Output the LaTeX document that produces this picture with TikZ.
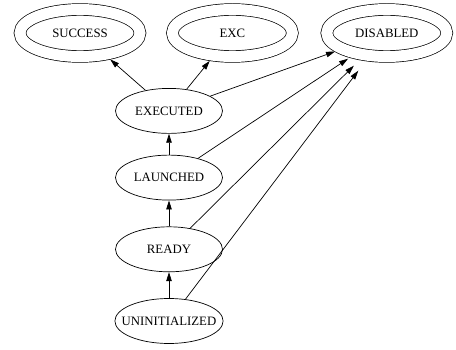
\documentclass[tikz,border=0pt]{standalone}
\usepackage{fontspec}
\setmainfont{Liberation Serif}
\usetikzlibrary{shapes,positioning,arrows.meta}

\begin{document}
\begin{tikzpicture}[
    x=1pt, y=-1pt,
    node distance=26pt,
    statenode/.style={
        ellipse, draw=black, line width=0.7pt, inner sep=0pt,
        minimum width=107pt, minimum height=45pt,
        font=\fontsize{12.8}{14}\selectfont
      },
    endnode/.style={
        ellipse, draw=black, line width=0.7pt, double, double distance=11pt,
        inner sep=0pt, outer sep=6.2pt,
        minimum width=120pt, minimum height=47pt,
        font=\fontsize{12.8}{14}\selectfont
      },
    tr/.style={
        draw=black, line width=0.7pt, -{Triangle[length=9pt,width=5.5pt]}
      },
  ]
  \useasboundingbox (0,0) rectangle (456,350);
  \node[endnode](succ) at (80,33) {SUCCESS};
  \node[endnode](exc) [right=20pt of succ] {EXC};
  \node[endnode](dis) [right=22pt of exc] {DISABLED};
  \node[statenode, inner xsep=-9pt](uninit) at (169,321) {UNINITIALIZED};
  \node[statenode](ready) [above=of uninit] {READY};
  \node[statenode](launch) [above=of ready] {LAUNCHED};
  \node[statenode](exec) [above=21pt of launch] {EXECUTED};

  \path[tr]
    (uninit) edge (ready)
    (ready) edge (launch)
    (launch) edge (exec)
    (exec) edge (succ)
    (exec) edge (exc)
    (exec) edge (dis)
    (launch) edge[shorten >=2pt] (dis)
    (ready) edge[shorten >=8pt] (dis)
    (uninit) edge[shorten >=12pt] (dis)
  ;
\end{tikzpicture}
\end{document}
